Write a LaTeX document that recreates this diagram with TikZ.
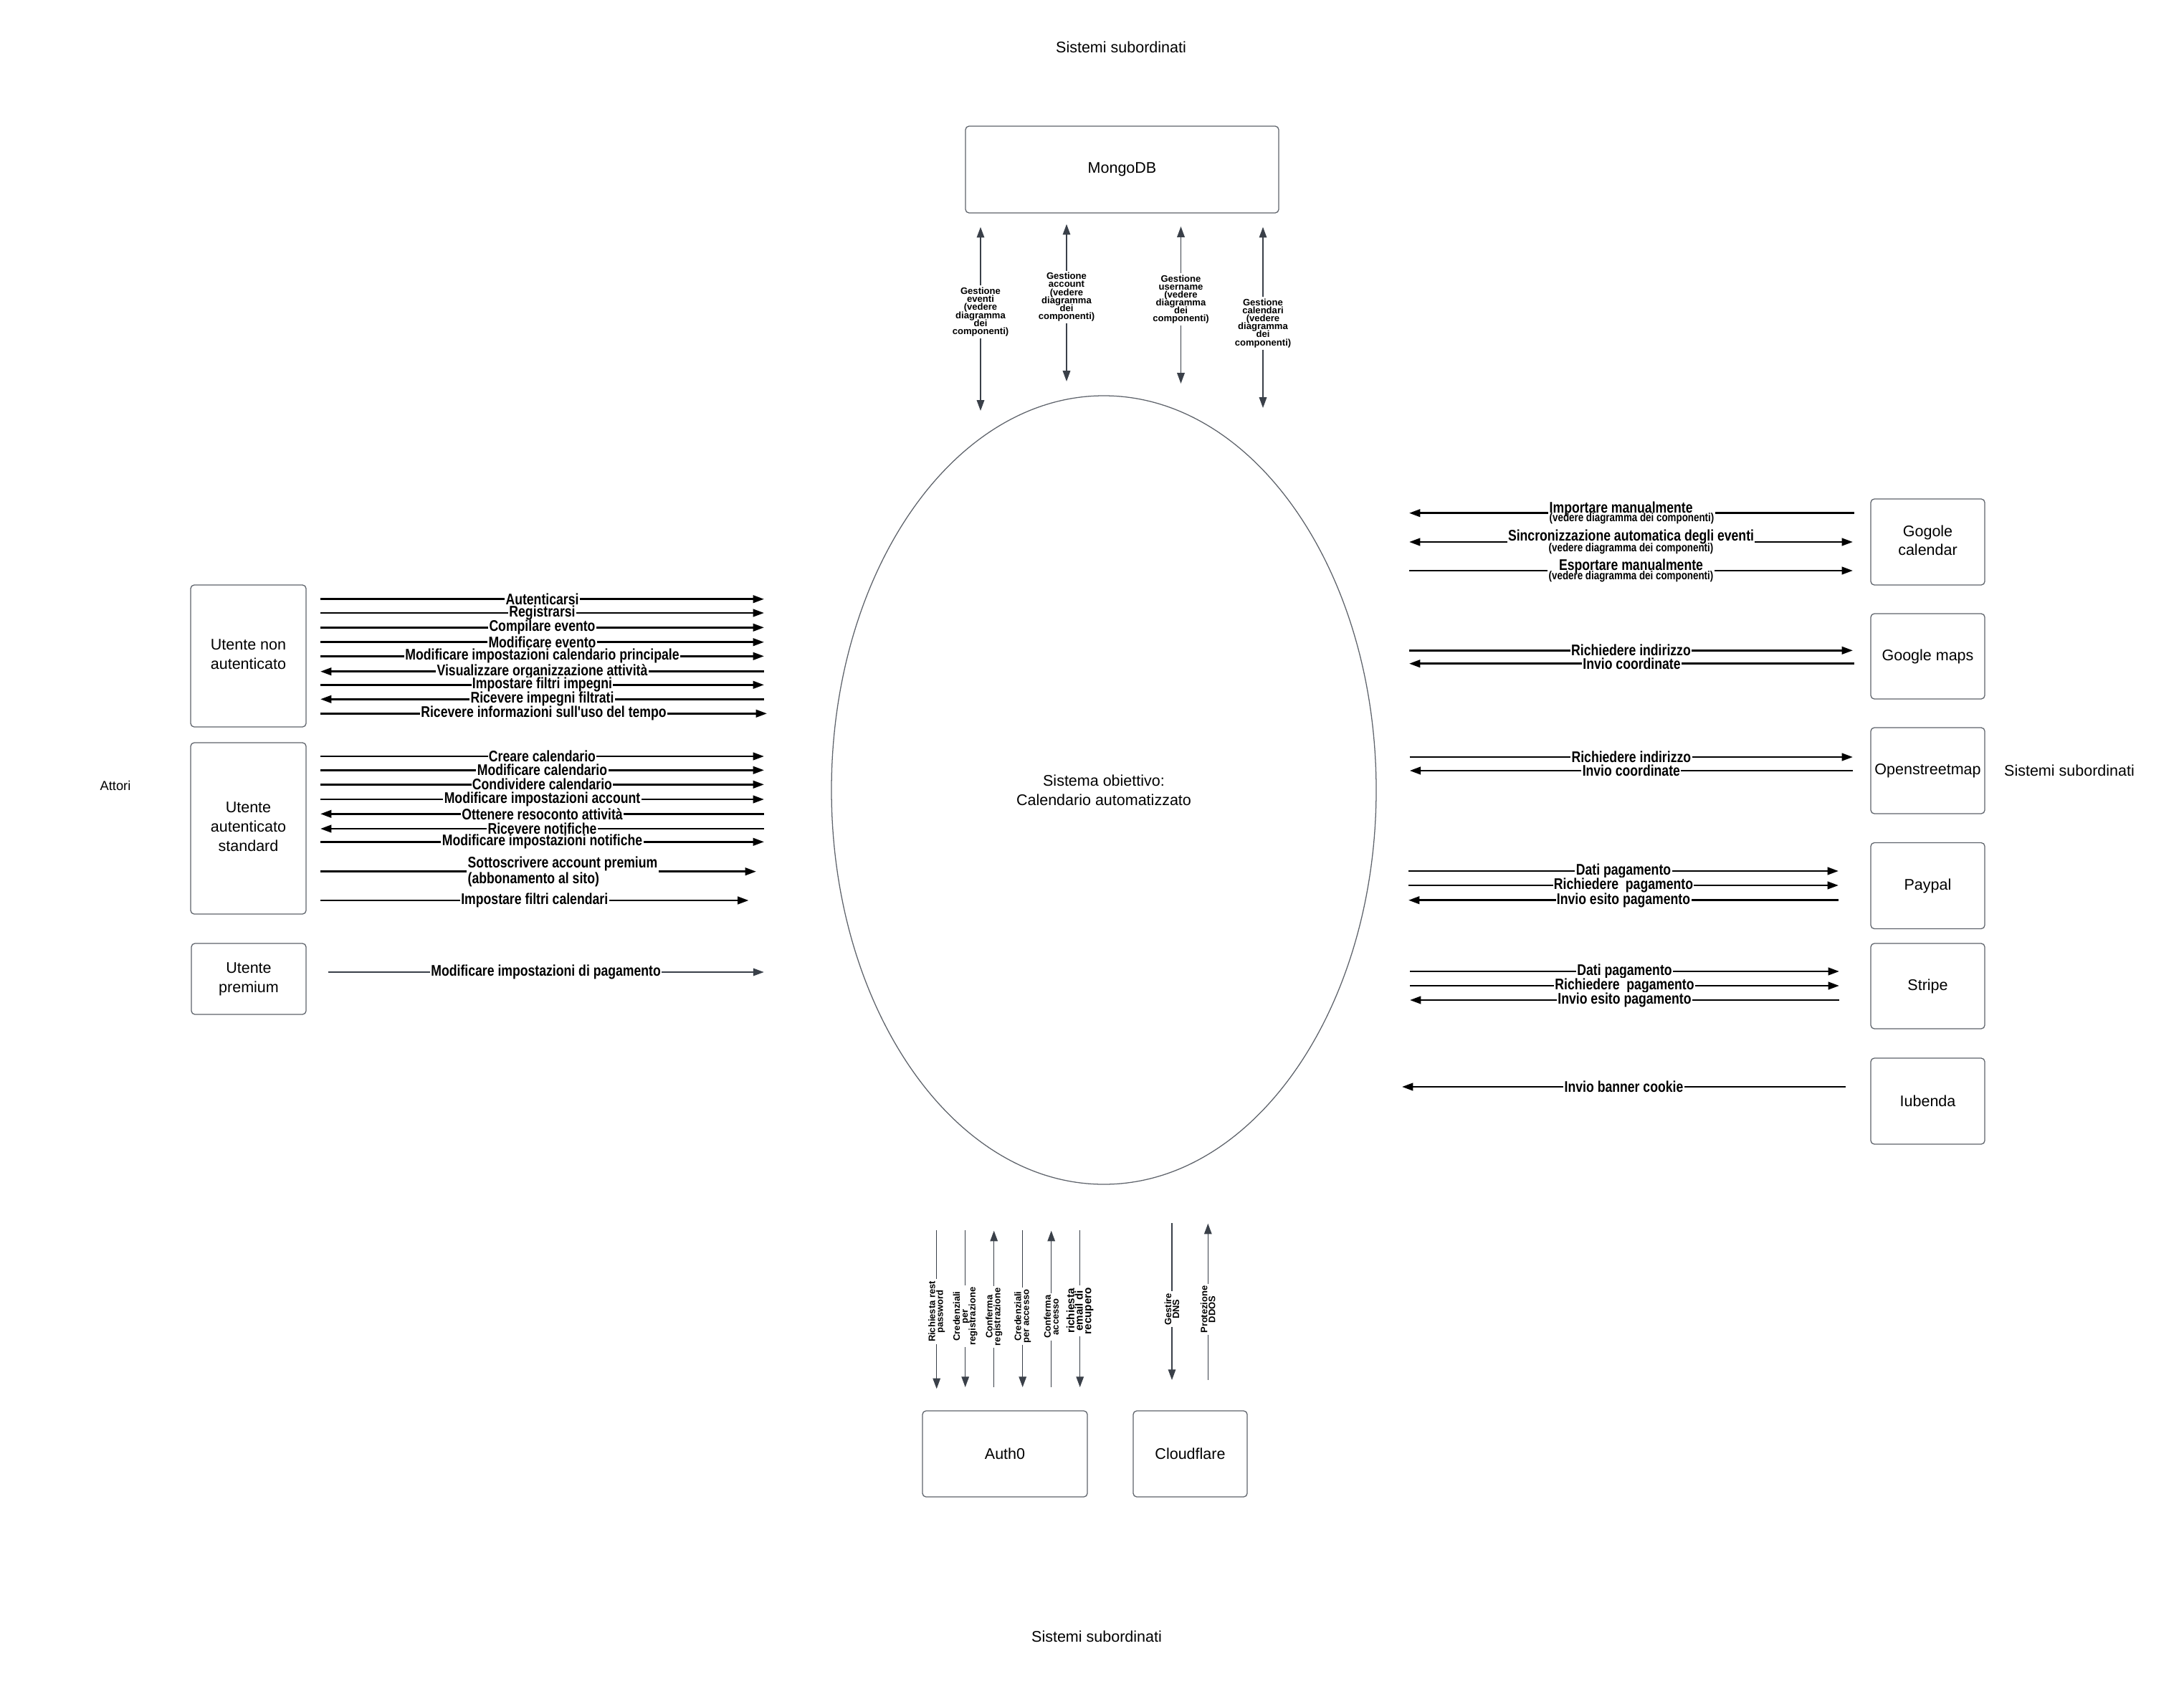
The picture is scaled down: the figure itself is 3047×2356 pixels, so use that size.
\documentclass[tikz,border=0pt]{standalone}
\usepackage{fontspec}
\setmainfont{Liberation Sans}
\newfontfamily\nar{Liberation Sans}[FakeStretch=0.82]
\usetikzlibrary{arrows.meta,shapes.geometric}
\definecolor{bord}{HTML}{5E636B}
\definecolor{garr}{HTML}{3A4049}
\newcommand\tightlines{\lineskiplimit=-30pt\relax}
\tikzset{
  box/.style={draw=bord, line width=0.9pt, rounded corners=3.5pt, align=center,
    font=\fontsize{15.3}{19}\selectfont, inner sep=0pt},
  sz/.style 2 args={minimum width=#1*0.25mm, minimum height=#2*0.25mm},
  txt/.style={font=\fontsize{15.3}{19}\selectfont},
  blk/.style={line width=1.9pt, black},
  btip/.tip={Triangle[length=11pt,width=7.5pt]},
  gtip/.tip={Triangle[length=10.5pt,width=7.5pt]},
  blkR/.style={blk, -btip},
  blkL/.style={blk, btip-},
  blkB/.style={blk, btip-btip},
  gry/.style={line width=1pt, garr},
  gEnd/.style={gry, -gtip},
  gStart/.style={gry, gtip-},
  gBoth/.style={gry, gtip-gtip},
  lbl/.style={fill=white, inner xsep=1pt, inner ysep=0.5pt, text=black,
    font=\nar\bfseries\fontsize{15.3}{17}\selectfont},
  vlbl/.style={fill=white, inner sep=2pt, align=center, text=black,
    font=\bfseries\fontsize{9.3}{7.9}\selectfont\tightlines},
  rlbl/.style={fill=white, inner sep=2pt, align=center, text=black, rotate=90,
    font=\bfseries\fontsize{9.2}{7.8}\selectfont\tightlines},
}
% horizontal connector: [label opts]{name}{style}{x1}{x2}{y}{label}
\newcommand\harr[7][]{%
  \coordinate (#2a) at (#4,#6);
  \coordinate (#2b) at (#5,#6);
  \draw[#3] (#2a) -- node[lbl,#1] (#2t) {#7} (#2b);}
% vertical connector: {name}{style}{x}{y1}{y2}{pos}{label style}{label}
\newcommand\varr[8]{%
  \coordinate (#1a) at (#3,#4);
  \coordinate (#1b) at (#3,#5);
  \draw[#2] (#1a) -- node[#7,pos=#6] (#1t) {#8} (#1b);}
\begin{document}
\begin{tikzpicture}[x=0.25mm,y=-0.25mm]
\useasboundingbox (0,0) rectangle (3047,2356);
\fill[white] (0,0) rectangle (3047,2356);

% titles
\node[txt] (tTop) at (1564,66) {Sistemi subordinati};
\node[txt] (tBot) at (1530,2283) {Sistemi subordinati};
\node[txt] (tRight) at (2887,1075) {Sistemi subordinati};
\node[font=\fontsize{13}{15}\selectfont] (attori) at (161,1096) {Attori};

% central system
\node[draw=bord, line width=0.9pt, ellipse, minimum width=760*0.25mm,
  minimum height=1100*0.25mm, inner sep=0pt, align=center,
  font=\fontsize{15.3}{19}\selectfont] (sys) at (1540,1102)
  {Sistema obiettivo:\\Calendario automatizzato};

% boxes
\node[box, sz={437}{121}] (mongo) at (1565.5,236.5) {MongoDB};
\node[box, sz={161}{198}] (ut1) at (346.5,915) {Utente non\\autenticato\vphantom{g}};
\node[box, sz={161}{239}] (ut2) at (346.5,1155.5) {Utente\\autenticato\\standard\vphantom{g}};
\node[box, sz={160}{99}] (ut3) at (347,1365.5) {Utente\\premium\vphantom{g}};
\node[box, sz={159}{120}] (gcal) at (2689.5,756) {Gogole\\calendar\vphantom{g}};
\node[box, sz={159}{119}] (gmaps) at (2689.5,915.5) {Google maps};
\node[box, sz={159}{120}] (osm) at (2689.5,1075) {Openstreetmap};
\node[box, sz={159}{120}] (paypal) at (2689.5,1235.5) {Paypal};
\node[box, sz={159}{119}] (stripe) at (2689.5,1375.5) {Stripe};
\node[box, sz={159}{120}] (iub) at (2689.5,1536) {Iubenda};
\node[box, sz={230}{120}] (auth) at (1402,2028) {Auth0};
\node[box, sz={159}{120}] (cloud) at (1660.5,2028) {Cloudflare};

% MongoDB connectors
\varr{m1}{gBoth}{1368}{316.7}{573}{0.462}{vlbl}{Gestione\\eventi\\(vedere\\diagramma\\dei\\componenti)}
\varr{m2}{gBoth}{1488}{312.7}{532}{0.463}{vlbl}{Gestione\\account\\(vedere\\diagramma\\dei\\componenti)}
\varr{m3}{gBoth}{1647.5}{316}{535}{0.463}{vlbl}{Gestione\\username\\(vedere\\diagramma\\dei\\componenti)}
\varr{m4}{gBoth}{1762}{316.7}{569}{0.532}{vlbl}{Gestione\\calendari\\(vedere\\diagramma\\dei\\componenti)}

% Utente non autenticato
\harr{a1}{blkR}{447}{1066}{835.7}{Autenticarsi}
\harr{a2}{blkR}{447}{1066}{855}{Registrarsi}
\harr{a3}{blkR}{447}{1066}{875.3}{Compilare evento}
\harr{a4}{blkR}{447}{1066}{895.7}{Modificare evento}
\harr{a5}{blkR}{447}{1066}{915.3}{Modificare impostazioni calendario principale}
\harr{a6}{blkL}{447}{1066}{936.7}{Visualizzare organizzazione attività}
\harr{a7}{blkR}{447}{1066}{955.3}{Impostare filtri impegni}
\harr{a8}{blkL}{447}{1066}{975.3}{Ricevere impegni filtrati}
\harr{a9}{blkR}{447}{1070}{995.3}{Ricevere informazioni sull'uso del tempo}

% Utente autenticato standard
\harr{b1}{blkR}{447}{1066}{1055}{Creare calendario}
\harr{b2}{blkR}{447}{1066}{1074.3}{Modificare calendario}
\harr{b3}{blkR}{447}{1066}{1094.3}{Condividere calendario}
\harr{b4}{blkR}{447}{1066}{1115}{Modificare impostazioni account}
\harr{b5}{blkL}{447}{1066}{1135.3}{Ottenere resoconto attività}
\harr{b6}{blkL}{447}{1066}{1156}{Ricevere notifiche}
\harr{b7}{blkR}{447}{1066}{1174.3}{Modificare impostazioni notifiche}
\harr[pos=0.556, align=left, inner ysep=1pt, font=\nar\bfseries\fontsize{15.3}{15.6}\selectfont\tightlines]{b8}{blkR}{447}{1055}{1215.7}{Sottoscrivere account premium\\(abbonamento al sito)}
\harr{b9}{blkR}{447}{1044.5}{1256}{Impostare filtri calendari}

% Utente premium
\harr{c1}{gEnd}{457.6}{1065.7}{1356}{Modificare impostazioni di pagamento}

% Google calendar
\harr[align=left, font=\nar\bfseries\fontsize{15.3}{8.6}\selectfont\tightlines]{g1}{blkL}{1966}{2587}{715.7}{Importare manualmente\\{\fontsize{11.6}{8.6}\selectfont (vedere diagramma dei componenti)}}
\harr[align=center, font=\nar\bfseries\fontsize{15.3}{11.2}\selectfont\tightlines]{g2}{blkB}{1966}{2585}{756}{Sincronizzazione automatica degli eventi\\{\fontsize{11.6}{11.2}\selectfont (vedere diagramma dei componenti)}}
\harr[align=center, font=\nar\bfseries\fontsize{15.3}{8.8}\selectfont\tightlines]{g3}{blkR}{1966}{2585}{796}{Esportare manualmente\\{\fontsize{11.6}{8.8}\selectfont (vedere diagramma dei componenti)}}

% Google maps
\harr{gm1}{blkR}{1966}{2585}{907.3}{Richiedere indirizzo}
\harr{gm2}{blkL}{1966}{2587}{925.7}{Invio coordinate}

% Openstreetmap
\harr{os1}{blkR}{1966.7}{2585}{1056}{Richiedere indirizzo}
\harr{os2}{blkL}{1966.7}{2585}{1075}{Invio coordinate}

% Paypal
\harr{pp1}{blkR}{1965}{2565}{1215}{Dati pagamento}
\harr{pp2}{blkR}{1965}{2565}{1235}{Richiedere\ \ pagamento}
\harr{pp3}{blkL}{1965}{2565}{1255.7}{Invio esito pagamento}

% Stripe
\harr{st1}{blkR}{1967}{2566}{1355}{Dati pagamento}
\harr{st2}{blkR}{1967}{2566}{1375}{Richiedere\ \ pagamento}
\harr{st3}{blkL}{1967}{2566}{1395}{Invio esito pagamento}

% Iubenda
\harr{ib1}{blkL}{1956}{2575}{1516}{Invio banner cookie}

% Auth0
\varr{au1}{gEnd}{1306.7}{1716}{1937.3}{0.513}{rlbl}{Richiesta rest\\password}
\varr{au2}{gEnd}{1346.7}{1716}{1935}{0.548}{rlbl}{Credenziali\\per\\registrazione}
\varr{au3}{gStart}{1386.7}{1716.7}{1935}{0.55}{rlbl}{Conferma\\registrazione}
\varr{au4}{gEnd}{1426.7}{1716}{1935}{0.548}{rlbl}{Credenziali\\per accesso}
\varr{au5}{gStart}{1466.7}{1716.7}{1935}{0.55}{rlbl}{Conferma\\accesso}
\varr{au6}{gEnd}{1506.7}{1716}{1935}{0.514}{rlbl,font=\bfseries\fontsize{10.8}{8.3}\selectfont\tightlines}{richiesta\\email di\\recupero}

% Cloudflare
\varr{cf1}{gEnd}{1635}{1706}{1925}{0.549}{rlbl}{Gestire\\DNS}
\varr{cf2}{gStart}{1685.3}{1706.7}{1925}{0.549}{rlbl}{Protezione\\DDOS}
\end{tikzpicture}
\end{document}
